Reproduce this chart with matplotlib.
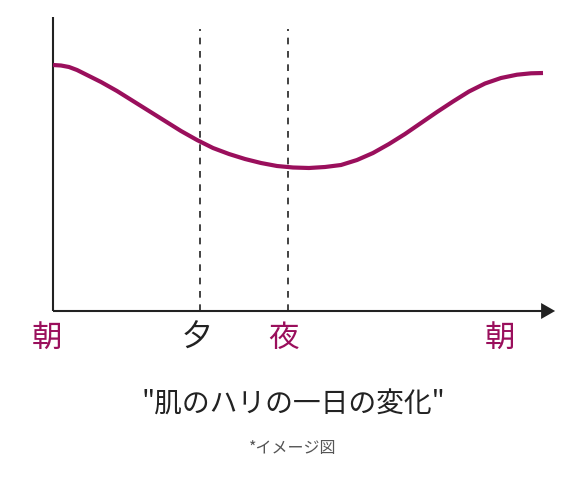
import matplotlib.pyplot as plt
from matplotlib.patches import FancyArrow

plt.rcParams['font.family'] = ['Noto Sans CJK JP', 'DejaVu Sans']

# curve (x: time axis units, y: firmness units)
curve_x = [0, 8, 16, 24, 32, 48, 64, 80, 96, 112, 128, 144, 160, 176, 192, 208, 224,
           240, 256, 272, 288, 304, 320, 336, 352, 368, 384, 400, 416, 432, 448,
           464, 478, 490]
curve_y = [246, 245.5, 244, 241, 237, 229, 220, 210, 200, 190, 180, 171, 163, 157,
           152, 148, 145, 143.5, 143, 144, 146, 151, 158, 167, 177, 188, 199, 209.5,
           219.5, 227.5, 233, 236.3, 237.7, 238]

marker_x = [147, 235]  # dashed guides at 夕 and 夜
tick_labels = ['朝', '夕', '夜', '朝']
tick_pos = [-6, 144, 231, 447]
tick_colors = ['#9a0f5c', '#222222', '#9a0f5c', '#9a0f5c']

title = '"肌のハリの一日の変化"'
note = '*イメージ図'

magenta = '#9a0f5c'

fig = plt.figure(figsize=(5.85, 4.8), dpi=100)
ax = fig.add_axes([0, 0, 1, 1])
ax.set_xlim(-53, 532)
ax.set_ylim(-169, 311)
ax.axis('off')

# axes lines
ax.plot([0, 0], [0, 294], color='#222222', lw=1.5, solid_capstyle='butt')
ax.plot([0, 490], [0, 0], color='#222222', lw=1.5, solid_capstyle='butt')
ax.add_patch(FancyArrow(488, 0, 0.1, 0, width=0, head_width=16, head_length=14,
                        length_includes_head=False, color='#222222', lw=0))

for mx in marker_x:
    ax.plot([mx, mx], [0, 282], color='#222222', lw=1.2, ls=(0, (4, 4)))

ax.plot(curve_x, curve_y, color=magenta, lw=3, solid_capstyle='butt',
        solid_joinstyle='round')

for lbl, xp, c in zip(tick_labels, tick_pos, tick_colors):
    ax.text(xp, -27, lbl, color=c, fontsize=22, ha='center', va='center')

ax.text(240, -94, title, color='#222222', fontsize=20, ha='center', va='center')
ax.text(240, -138, note, color='#555555', fontsize=11.5, ha='center', va='center')

fig.savefig('out.png', dpi=100)
